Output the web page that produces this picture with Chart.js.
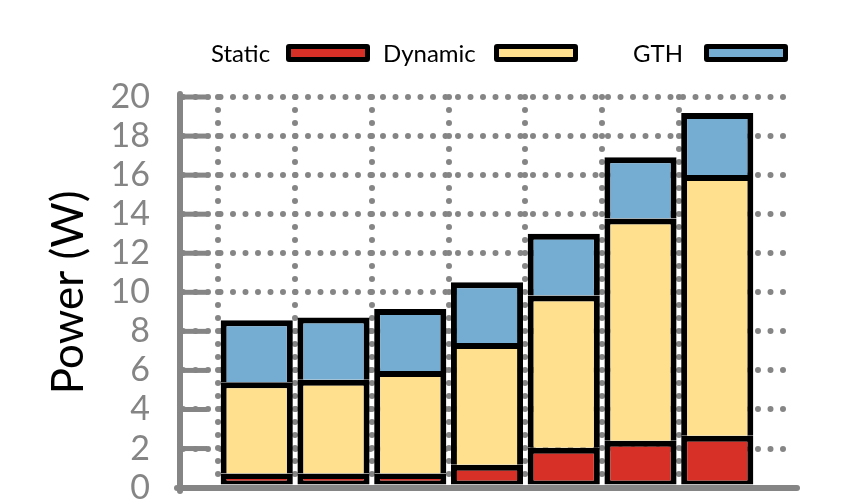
<!DOCTYPE html>
<html>
<head>
<meta charset="utf-8">
<script src="https://cdn.jsdelivr.net/npm/chart.js@4/dist/chart.umd.min.js"></script>
<style>
    body { margin: 0; background: #fff; }
    #wrap { position: relative; width: 860px; height: 499px; overflow: hidden; }
    .lg { position: absolute; top: 39px; font-family: Lato, sans-serif; font-size: 24px; line-height: 28px; color: #000; }
    .box { position: absolute; top: 44px; width: 74px; height: 8px; border: 5.5px solid #000; border-radius: 3px; }
</style>
</head>
<body>
<div id="wrap">
    <canvas id="MyChart" width="860" height="538"></canvas>
    <div id="legend"></div>
</div>
<script>
// categories (first and last are empty slots so the bars sit on the dotted grid)
const labels = ['', 'A', 'B', 'C', 'D', 'E', 'F', 'G', ''];

const staticW  = [null, 0.72, 0.72, 0.72, 1.17, 2.04, 2.40, 2.66, null];
const dynamicW = [null, 4.68, 4.80, 5.25, 6.24, 7.79, 11.38, 13.35, null];
const gthW     = [null, 3.17, 3.19, 3.18, 3.10, 3.17, 3.14, 3.17, null];

const yTicks = [0, 2, 4, 6, 8, 10, 12, 14, 16, 18, 20];

const gray = '#858585';
const legendItems = [
    { text: 'Static',  color: '#d73027', textX: 211, boxX: 286 },
    { text: 'Dynamic', color: '#fee08f', textX: 383, boxX: 494 },
    { text: 'GTH',     color: '#74add1', textX: 633, boxX: 704 },
];

// legend, text on the left of its box
const legend = document.getElementById('legend');
legendItems.forEach(it => {
    let t = document.createElement('span');
    t.className = 'lg';
    t.style.left = it.textX + 'px';
    t.textContent = it.text;
    legend.appendChild(t);
    let b = document.createElement('div');
    b.className = 'box';
    b.style.left = it.boxX + 'px';
    b.style.background = it.color;
    legend.appendChild(b);
});

// round dots for the dotted grid + short inward ticks on the y axis
const axisMarks = {
    id: 'axisMarks',
    beforeDraw(chart) {
        chart.ctx.lineCap = 'round';
    },
    beforeDatasetsDraw(chart) {
        const ctx = chart.ctx;
        const y = chart.scales.y;
        ctx.save();
        ctx.lineCap = 'butt';
        ctx.strokeStyle = gray;
        ctx.lineWidth = 5;
        yTicks.forEach(v => {
            let py = y.getPixelForValue(v);
            ctx.beginPath();
            ctx.moveTo(chart.chartArea.left, py);
            ctx.lineTo(chart.chartArea.left + 27, py);
            ctx.stroke();
        });
        ctx.restore();
    }
};

const data = {
    labels: labels,
    datasets: [{
        label: 'Static',
        data: staticW,
        backgroundColor: legendItems[0].color,
        borderColor: '#000',
        borderWidth: { top: 6, left: 6, right: 6, bottom: 4 },
        borderSkipped: false,
    },
    {
        label: 'Dynamic',
        data: dynamicW,
        backgroundColor: legendItems[1].color,
        borderColor: '#000',
        borderWidth: 6,
        borderSkipped: 'start',
    },
    {
        label: 'GTH',
        data: gthW,
        backgroundColor: legendItems[2].color,
        borderColor: '#000',
        borderWidth: 6,
        borderSkipped: 'start',
    }]
};

const config = {
    type: 'bar',
    data: data,
    plugins: [axisMarks],
    options: {
        responsive: false,
        animation: false,
        categoryPercentage: 1,
        barPercentage: 0.94,
        layout: { padding: { top: 97, right: 66, bottom: 34, left: 0 } },
        plugins: { legend: { display: false }, tooltip: { enabled: false } },
        scales: {
            x: {
                stacked: true,
                offset: false,
                ticks: { display: false },
                grid: {
                    drawTicks: false,
                    lineWidth: 6,
                    color: ctx => (ctx.index === 0 || ctx.index === labels.length - 1) ? 'rgba(0,0,0,0)' : gray,
                },
                border: { display: true, color: gray, width: 6, dash: [0, 13] },
            },
            y: {
                stacked: true,
                min: 0,
                max: 20,
                afterFit: scale => { scale.width = 180; },
                afterBuildTicks: scale => { scale.ticks = yTicks.map(v => ({ value: v })); },
                ticks: {
                    color: gray,
                    padding: 30,
                    autoSkip: false,
                    font: { family: 'Lato', size: 34 },
                },
                grid: { drawTicks: false, lineWidth: 6, color: gray },
                border: { display: true, color: gray, width: 6, dash: [0, 12.5] },
                title: {
                    display: true,
                    text: 'Power (W)',
                    color: '#000',
                    font: { family: 'Lato', size: 44 },
                    padding: { top: 42, bottom: 0 },
                },
            },
        },
    },
};

const myChart = new Chart(document.getElementById('MyChart'), config);
</script>
</body>
</html>
